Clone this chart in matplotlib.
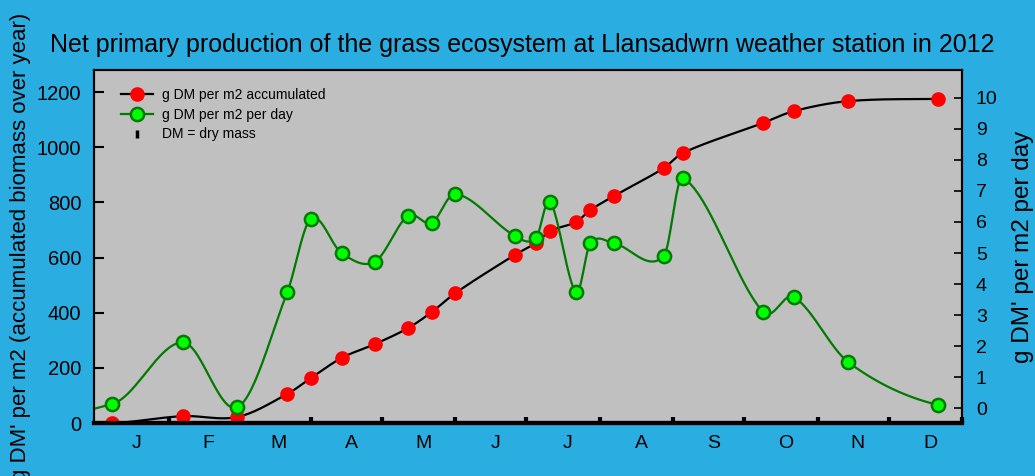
import numpy as np
import matplotlib
matplotlib.use("Agg")
import matplotlib.pyplot as plt
from matplotlib.lines import Line2D

plt.rcParams['font.family'] = ['Liberation Sans', 'DejaVu Sans']

# day of year (0 = 1 Jan 2012) of each sample
days = np.array([7, 37, 60, 81, 91, 104, 118, 132, 142, 152, 177, 186, 192,
                 203, 209, 219, 240, 248, 282, 295, 318, 356], dtype=float)
accum = np.array([0, 25, 22, 105, 163, 236, 286, 344, 402, 471, 609, 653, 696,
                  729, 772, 823, 924, 979, 1088, 1131, 1167, 1175], dtype=float)
daily = np.array([0.13, 2.12, 0.03, 3.73, 6.11, 5.0, 4.72, 6.2, 5.97, 6.91,
                  5.56, 5.47, 6.66, 3.73, 5.31, 5.31, 4.89, 7.43, 3.10, 3.58,
                  1.48, 0.10])

month_starts = [0, 31, 60, 91, 121, 152, 182, 213, 244, 274, 305, 335, 366]
month_labels = ['J', 'F', 'M', 'A', 'M', 'J', 'J', 'A', 'S', 'O', 'N', 'D']


def smooth(x, y, xs):
    # cubic hermite (catmull-rom style tangents), linear beyond the ends
    m = np.empty_like(y)
    m[1:-1] = (y[2:] - y[:-2]) / (x[2:] - x[:-2])
    m[0] = (y[1] - y[0]) / (x[1] - x[0]) * 0.3
    m[-1] = (y[-1] - y[-2]) / (x[-1] - x[-2]) * 0.5
    k = np.clip(np.searchsorted(x, xs) - 1, 0, len(x) - 2)
    h = x[k + 1] - x[k]
    t = (xs - x[k]) / h
    out = ((2 * t**3 - 3 * t**2 + 1) * y[k] + (t**3 - 2 * t**2 + t) * h * m[k]
           + (-2 * t**3 + 3 * t**2) * y[k + 1] + (t**3 - t**2) * h * m[k + 1])
    out = np.where(xs < x[0], y[0] + m[0] * (xs - x[0]), out)
    return out


sky = '#2aaee2'
fig = plt.figure(figsize=(10.35, 4.76), dpi=100, facecolor=sky)
ax = fig.add_axes([0.0908, 0.1113, 0.8387, 0.7417])
ax.set_facecolor('#c0c0c0')
ax2 = ax.twinx()

xs = np.linspace(days[0], days[-1], 800)
ax.plot(xs, smooth(days, accum, xs), color='black', lw=1.6, zorder=2)
ax.plot(days, accum, 'o', color='red', ms=9.5, mec='red', zorder=3)

xg = np.linspace(-1, days[-1], 800)
ax2.plot(xg, smooth(days, daily, xg), color='#007a00', lw=1.6, zorder=2)
ax2.plot(days, daily, 'o', mfc='#00ff00', mec='#007a00', mew=1.8, ms=9.5,
         zorder=3)

ax.set_xlim(-0.6, 366)
ax.set_ylim(0, 1280)
ax2.set_ylim(-0.48, 10.9)

ax.set_yticks(range(0, 1201, 200))
ax2.set_yticks(range(0, 11))
ax.set_xticks(month_starts[1:])
ax.set_xticklabels([])
for i, m in enumerate(month_labels):
    ax.text((month_starts[i] + month_starts[i + 1]) / 2 + 2, -0.035, m,
            transform=ax.get_xaxis_transform(), ha='center', va='top',
            fontsize=14)

ax.tick_params(axis='y', direction='in', length=7, width=1.5, labelsize=14.5,
               pad=9)
ax.tick_params(axis='x', direction='in', length=4, width=3)
ax2.tick_params(axis='y', direction='in', length=6, width=1.2, labelsize=14,
                pad=10)

for a in (ax, ax2):
    for s in a.spines.values():
        s.set_color('black')
        s.set_linewidth(1.5)
    a.spines['bottom'].set_linewidth(3)

ax.set_ylabel("g DM' per m2 (accumulated biomass over year)", fontsize=16,
              labelpad=4)
ax2.set_ylabel("g DM' per m2 per day", fontsize=17.5, labelpad=10)
fig.text(0.505, 0.905, 'Net primary production of the grass ecosystem at '
         'Llansadwrn weather station in 2012', ha='center', va='center',
         fontsize=18)

handles = [
    Line2D([], [], color='black', lw=1.6, marker='o', mfc='red', mec='red',
           ms=9.5),
    Line2D([], [], color='#007a00', lw=1.6, marker='o', mfc='#00ff00',
           mec='#007a00', mew=1.8, ms=9.5),
    Line2D([], [], color='black', ls='none', marker='|', ms=6, mew=2.5),
]
labels = ['g DM per m2 accumulated', 'g DM per m2 per day', 'DM = dry mass']
leg = ax2.legend(handles, labels, loc='upper left', frameon=False,
                 fontsize=10, handlelength=2.3, handletextpad=0.6,
                 labelspacing=0.42, bbox_to_anchor=(0.017, 0.985))

fig.savefig('out.png', dpi=100, facecolor=sky)
